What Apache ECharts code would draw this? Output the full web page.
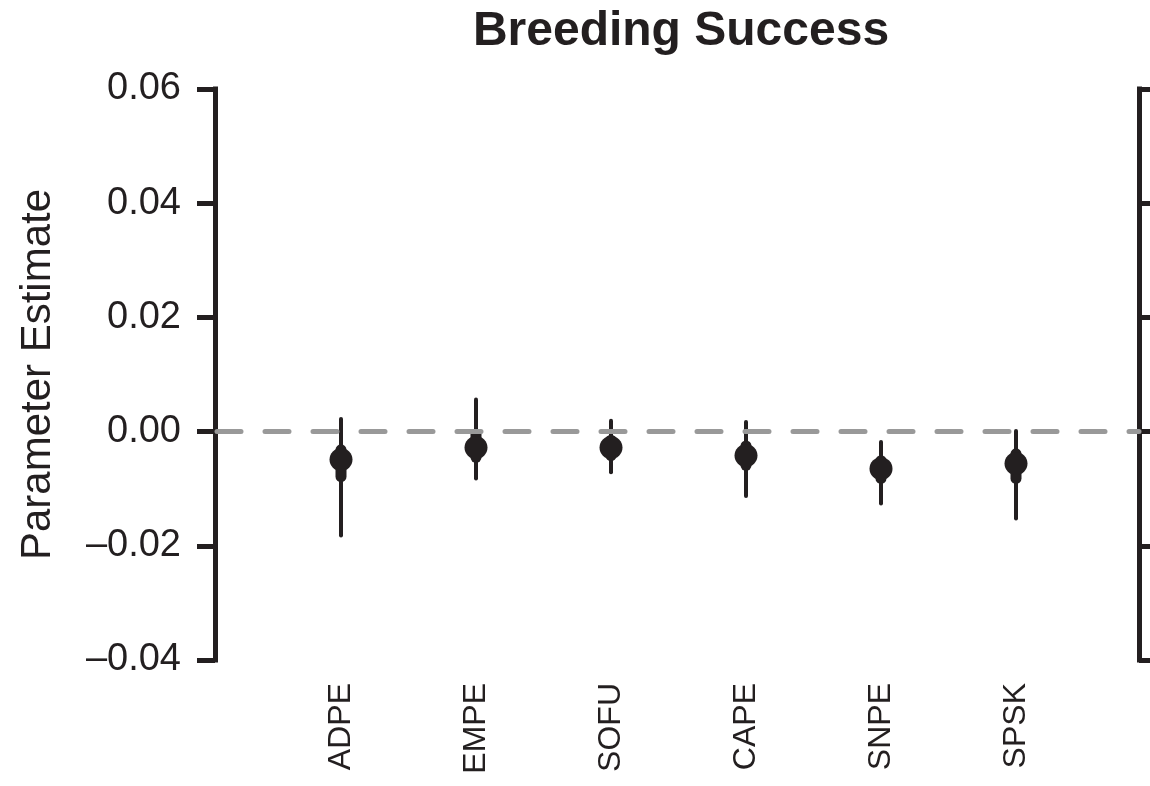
<!DOCTYPE html>
<html>
<head>
<meta charset="utf-8">
<script src="https://cdn.jsdelivr.net/npm/echarts@6/dist/echarts.min.js"></script>
<style>html,body{margin:0;padding:0;background:#fff}#chart{width:1150px;height:786px}</style>
</head>
<body>
<div id="chart"></div>
<script>
var categories = ['ADPE', 'EMPE', 'SOFU', 'CAPE', 'SNPE', 'SPSK'];
var positions = [1, 2, 3, 4, 5, 6];
var estimates = [-0.0049, -0.0028, -0.0028, -0.0042, -0.0065, -0.0056];
var lower95 = [-0.0182, -0.0082, -0.0071, -0.0113, -0.0126, -0.0152];
var upper95 = [0.0022, 0.0056, 0.0019, 0.0017, -0.0018, 0.0001];
var lower50 = [-0.0079, -0.0045, -0.0042, -0.0059, -0.0082, -0.0082];
var upper50 = [-0.0032, -0.0004, -0.0015, -0.0025, -0.0051, -0.0039];
var yTicks = [-0.04, -0.02, 0, 0.02, 0.04, 0.06];

var INK = '#231f20';
var FONT = '"Liberation Sans", Arial, Helvetica, sans-serif';

function fmtY(v) {
  var s = Math.abs(v).toFixed(2);
  return v < -1e-9 ? '\u2013' + s : s;
}

function rangeSeries(lo, hi, width) {
  return {
    type: 'custom',
    silent: true,
    z: 3,
    data: positions.map(function (p, i) { return [p, lo[i], hi[i]]; }),
    encode: { x: 0, y: [1, 2] },
    renderItem: function (params, api) {
      var a = api.coord([api.value(0), api.value(1)]);
      var b = api.coord([api.value(0), api.value(2)]);
      return {
        type: 'line',
        shape: { x1: a[0], y1: a[1], x2: b[0], y2: b[1] },
        style: { stroke: INK, lineWidth: width, lineCap: 'round' }
      };
    }
  };
}

var chart = echarts.init(document.getElementById('chart'), null, { renderer: 'canvas' });
chart.setOption({
  animation: false,
  title: {
    text: 'Breeding Success',
    left: 676,
    top: 3,
    textAlign: 'center',
    textStyle: { fontFamily: FONT, fontSize: 48, fontWeight: 'bold', color: INK }
  },
  grid: { left: 215, right: 11, top: 89, bottom: 126, containLabel: false },
  xAxis: {
    type: 'value',
    min: 1 - 126 / 135,
    max: 6 + 123 / 135,
    splitLine: { show: false },
    axisLine: { show: false },
    axisTick: { show: false },
    axisLabel: {
      customValues: positions,
      rotate: 90,
      margin: 23,
      fontFamily: FONT,
      fontSize: 32,
      color: INK,
      formatter: function (v) {
        var i = positions.indexOf(Math.round(v));
        return i >= 0 ? categories[i] : '';
      }
    }
  },
  yAxis: [{
    type: 'value',
    position: 'left',
    min: -0.04,
    max: 0.06,
    interval: 0.02,
    name: 'Parameter Estimate',
    nameLocation: 'middle',
    nameGap: 156,
    nameTextStyle: { fontFamily: FONT, fontSize: 42, color: INK },
    splitLine: { show: false },
    axisLine: { show: true, lineStyle: { color: INK, width: 5, cap: 'square' } },
    axisTick: { show: true, length: 18, lineStyle: { color: INK, width: 5 } },
    axisLabel: {
      margin: 34,
      fontFamily: FONT,
      fontSize: 38,
      color: INK,
      formatter: fmtY
    }
  }, {
    type: 'value',
    position: 'right',
    min: -0.04,
    max: 0.06,
    interval: 0.02,
    splitLine: { show: false },
    axisLine: { show: true, lineStyle: { color: INK, width: 5, cap: 'square' } },
    axisTick: { show: true, length: 18, lineStyle: { color: INK, width: 5 } },
    axisLabel: { show: false }
  }],
  series: [
    {
      type: 'scatter',
      silent: true,
      z: 1,
      data: [],
      markLine: {
        silent: true,
        symbol: ['none', 'none'],
        label: { show: false },
        lineStyle: { color: '#999999', width: 5, type: [24, 24], cap: 'round', dashOffset: -2 },
        data: [{ yAxis: 0 }]
      }
    },
    rangeSeries(lower95, upper95, 4),
    rangeSeries(lower50, upper50, 11),
    {
      type: 'scatter',
      z: 4,
      symbol: 'circle',
      symbolSize: 23,
      itemStyle: { color: INK, opacity: 1 },
      data: positions.map(function (p, i) { return [p, estimates[i]]; })
    }
  ]
});
</script>
</body>
</html>
